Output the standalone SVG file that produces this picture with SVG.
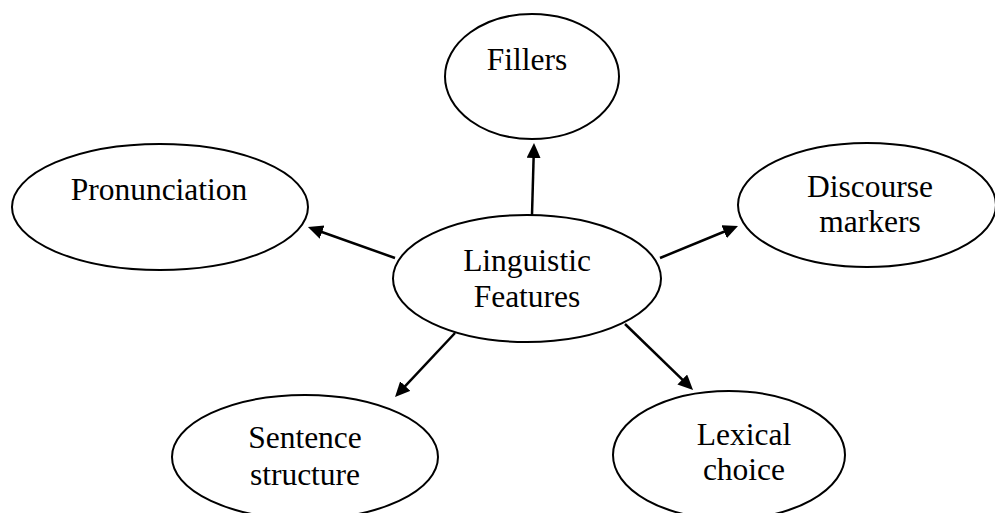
<svg xmlns="http://www.w3.org/2000/svg" width="995" height="513" viewBox="0 0 995 513">
<style>
.n ellipse{fill:#fff;stroke:#000;stroke-width:2}
.n text{font-family:"Liberation Serif","Times New Roman",serif;font-size:31.5px;fill:#000;text-anchor:middle}
.c line{stroke:#000;stroke-width:2.5}
</style>
<defs>
<marker id="ah" markerUnits="userSpaceOnUse" markerWidth="16" markerHeight="16" refX="7" refY="7" orient="auto">
<path d="M0,0 L15,7 L0,14 z" fill="#000"/>
</marker>
</defs>
<rect width="995" height="513" fill="#fff"/>
<g id="fillers" class="n"><ellipse cx="532" cy="76.5" rx="87" ry="62.5"/><text x="527" y="70">Fillers</text></g>
<g id="pronunciation" class="n"><ellipse cx="160" cy="207" rx="148" ry="63"/><text x="159" y="200">Pronunciation</text></g>
<g id="discourse" class="n"><ellipse cx="867" cy="205" rx="129" ry="62"/><text x="870" y="197">Discourse</text><text x="870" y="232">markers</text></g>
<g id="linguistic" class="n"><ellipse cx="527" cy="278.5" rx="134" ry="63.5"/><text x="527" y="271">Linguistic</text><text x="527" y="307">Features</text></g>
<g id="sentence" class="n"><ellipse cx="305" cy="457" rx="133" ry="62"/><text x="305" y="448">Sentence</text><text x="305" y="485">structure</text></g>
<g id="lexical" class="n"><ellipse cx="729" cy="455" rx="116" ry="64"/><text x="744" y="445">Lexical</text><text x="744" y="480">choice</text></g>
<g id="connectors" class="c">
<line x1="532" y1="215" x2="533.8" y2="151" marker-end="url(#ah)"/>
<line x1="395" y1="258" x2="315.5" y2="229.7" marker-end="url(#ah)"/>
<line x1="660" y1="258" x2="730.6" y2="229" marker-end="url(#ah)"/>
<line x1="455" y1="333" x2="400.5" y2="391.2" marker-end="url(#ah)"/>
<line x1="625" y1="324" x2="687.3" y2="384.4" marker-end="url(#ah)"/>
</g>
</svg>
